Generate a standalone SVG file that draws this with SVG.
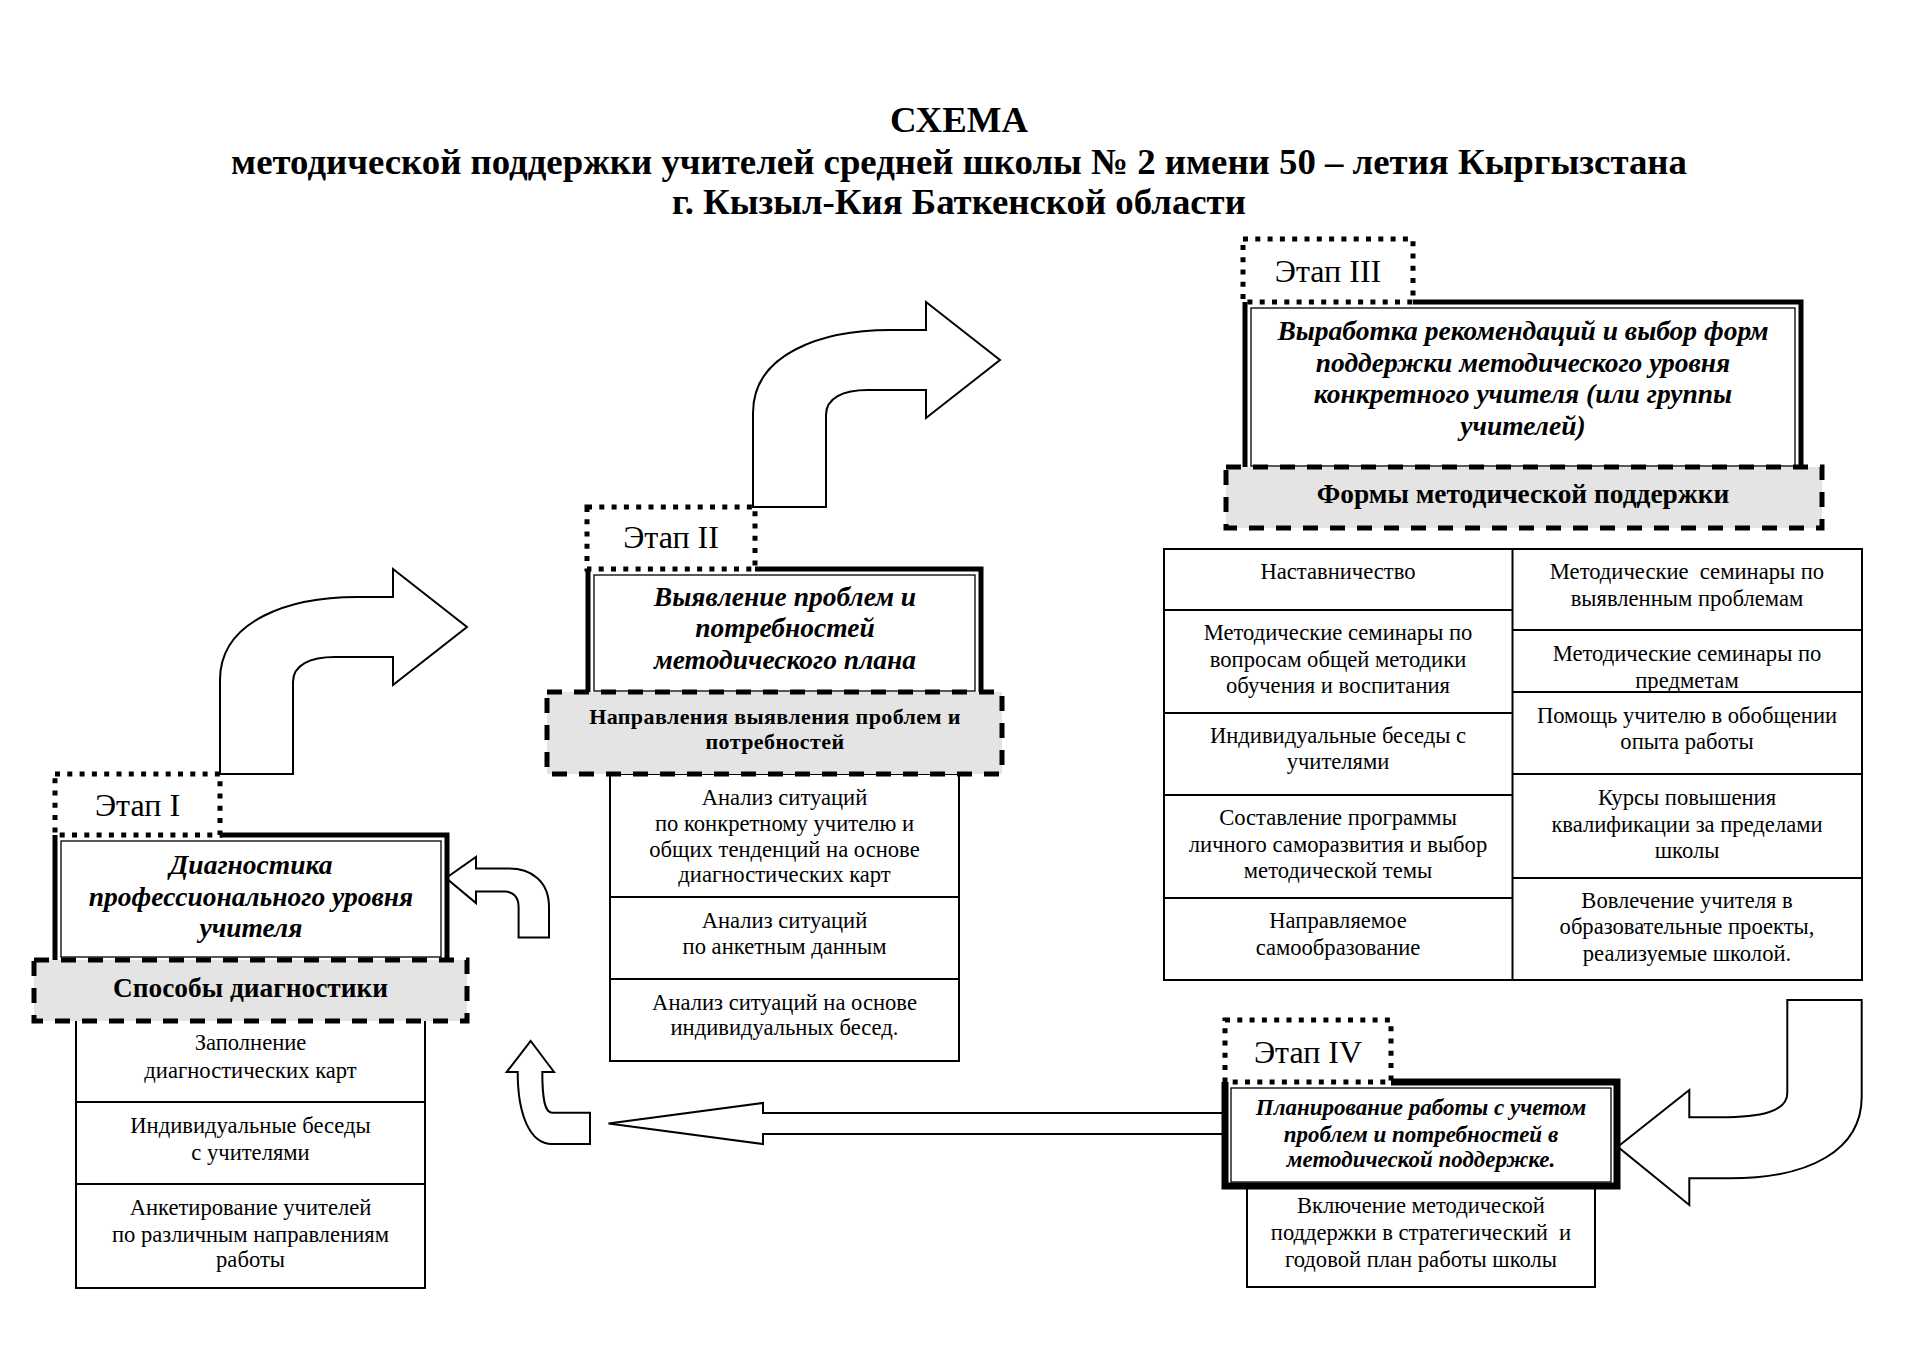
<svg xmlns="http://www.w3.org/2000/svg" xmlns:xlink="http://www.w3.org/1999/xlink" width="1920" height="1358" viewBox="0 0 1920 1358">
<style>
text{font-family:"Liberation Serif","Times New Roman",serif;fill:#000;text-anchor:middle}
.title{font-size:36.8px;font-weight:bold}
.etap{font-size:32px}
.head{font-size:27.5px;font-weight:bold;font-style:italic}
.head4{font-size:23px;font-weight:bold;font-style:italic}
.sub{font-size:27.4px;font-weight:bold}
.sub2{font-size:22px;font-weight:bold;letter-spacing:0.4px}
.item{font-size:22.6px}
.dot{fill:none;stroke:#000;stroke-width:5;stroke-dasharray:5 7.3}
.thick{fill:none;stroke:#000;stroke-width:5}
.thin{fill:none;stroke:#000;stroke-width:1.3}
.gray{fill:#e4e4e4;stroke:#000;stroke-width:5;stroke-dasharray:15 12}
.cell{fill:#fff;stroke:#000;stroke-width:2}
.line{stroke:#000;stroke-width:2}
.arrow{fill:#fff;stroke:#000;stroke-width:2;stroke-linejoin:miter}
</style>
<defs>
<path id="bend" d="M220,774 L220,680 C220,620 290,597 357,597 L393,597 L393,569 L467,627 L393,685 L393,657 L335,657 C310,657 293,665 293,682 L293,774 Z"/>
</defs>
<rect width="1920" height="1358" fill="#fff"/>

<g id="title">
<text class="title" x="959" y="132">СХЕМА</text>
<text class="title" x="959" y="174">методической поддержки учителей средней школы № 2 имени 50 – летия Кыргызстана</text>
<text class="title" x="959" y="214">г. Кызыл-Кия Баткенской области</text>
</g>

<g id="connectors">
<use xlink:href="#bend" class="arrow"/>
<use xlink:href="#bend" class="arrow" transform="translate(533,-267)"/>
<path class="arrow" d="M446,878 L476,857 L476,868.6 L509,868.6 C530,868.6 549,880 549,907 L549,937.5 L518.6,937.5 L518.6,907 C518.6,897 513,891.6 505,891.6 L476,891.6 L476,903 Z"/>
<path class="arrow" d="M530.7,1041 L554,1072 L542.3,1072 C542.3,1100 545,1112.7 552,1112.7 L590,1112.7 L590,1144 L552,1144 C530,1144 517.7,1115 517.7,1072 L506.7,1072 Z"/>
<path class="arrow" d="M608.5,1123.5 L763,1103 L763,1113 L1224,1113 L1224,1134 L763,1134 L763,1144 Z"/>
<path class="arrow" d="M1617.7,1146.7 L1689.3,1090 L1689.3,1117.3 L1720,1117.3 C1760,1117.3 1787.3,1112 1787.3,1093 L1787.3,1000 L1861.7,1000 L1861.7,1096.7 C1861.7,1150 1810,1178.3 1730,1178.3 L1689.3,1178.3 L1689.3,1205 Z"/>
</g>

<g id="stage1">
<g id="stage1-list">
<rect class="cell" x="76" y="1020" width="349" height="268"/>
<line class="line" x1="76" y1="1102" x2="425" y2="1102"/>
<line class="line" x1="76" y1="1184" x2="425" y2="1184"/>
<text class="item"><tspan x="250.5" y="1050">Заполнение</tspan><tspan x="250.5" y="1078">диагностических карт</tspan></text>
<text class="item"><tspan x="250.5" y="1133">Индивидуальные беседы</tspan><tspan x="250.5" y="1160">с учителями</tspan></text>
<text class="item"><tspan x="250.5" y="1215">Анкетирование учителей</tspan><tspan x="250.5" y="1242">по различным направлениям</tspan><tspan x="250.5" y="1267">работы</tspan></text>
</g>
<g id="stage1-box">
<path class="thick" d="M220,835 H447 V960 M55,835 V960"/>
<rect class="thin" x="61" y="841" width="380" height="116"/>
<text class="head"><tspan x="251" y="874">Диагностика</tspan><tspan x="251" y="906">профессионального уровня</tspan><tspan x="251" y="937">учителя</tspan></text>
</g>
<g id="stage1-label">
<rect class="dot" x="55" y="774" width="165" height="61"/>
<text class="etap" x="137.5" y="816">Этап I</text>
</g>
<g id="stage1-methods">
<rect class="gray" x="34" y="960" width="433" height="61"/>
<text class="sub" x="250.5" y="997">Способы диагностики</text>
</g>
</g>

<g id="stage2">
<g id="stage2-list">
<rect class="cell" x="610" y="774" width="349" height="287"/>
<line class="line" x1="610" y1="897" x2="959" y2="897"/>
<line class="line" x1="610" y1="979" x2="959" y2="979"/>
<text class="item"><tspan x="784.5" y="805">Анализ ситуаций</tspan><tspan x="784.5" y="831">по конкретному учителю и</tspan><tspan x="784.5" y="857">общих тенденций на основе</tspan><tspan x="784.5" y="882">диагностических карт</tspan></text>
<text class="item"><tspan x="784.5" y="928">Анализ ситуаций</tspan><tspan x="784.5" y="954">по анкетным данным</tspan></text>
<text class="item"><tspan x="784.5" y="1010">Анализ ситуаций на основе</tspan><tspan x="784.5" y="1035">индивидуальных бесед.</tspan></text>
</g>
<g id="stage2-box">
<path class="thick" d="M755,569 H981 V692 M588,569 V692"/>
<rect class="thin" x="594" y="575" width="381" height="116"/>
<text class="head"><tspan x="785" y="606">Выявление проблем и</tspan><tspan x="785" y="637">потребностей</tspan><tspan x="785" y="669">методического плана</tspan></text>
</g>
<g id="stage2-label">
<rect class="dot" x="587" y="507" width="168" height="62"/>
<text class="etap" x="671" y="548">Этап II</text>
</g>
<g id="stage2-directions">
<rect class="gray" x="547" y="692" width="455" height="82"/>
<text class="sub2"><tspan x="775" y="724">Направления выявления проблем и</tspan><tspan x="775" y="749">потребностей</tspan></text>
</g>
</g>

<g id="stage3">
<g id="stage3-box">
<path class="thick" d="M1413,302 H1801 V467 M1245,302 V467"/>
<rect class="thin" x="1251" y="308" width="544" height="158"/>
<text class="head"><tspan x="1523" y="340">Выработка рекомендаций и выбор форм</tspan><tspan x="1523" y="372">поддержки методического уровня</tspan><tspan x="1523" y="403">конкретного учителя (или группы</tspan><tspan x="1523" y="435">учителей)</tspan></text>
</g>
<g id="stage3-label">
<rect class="dot" x="1243" y="239" width="170" height="63"/>
<text class="etap" x="1328" y="282">Этап III</text>
</g>
<g id="stage3-forms">
<rect class="gray" x="1226" y="467" width="596" height="61"/>
<text class="sub" x="1523" y="503">Формы методической поддержки</text>
</g>
<g id="stage3-table">
<rect class="cell" x="1164" y="549" width="698" height="431"/>
<line class="line" x1="1512.5" y1="549" x2="1512.5" y2="980"/>
<line class="line" x1="1164" y1="610" x2="1512.5" y2="610"/>
<line class="line" x1="1164" y1="713" x2="1512.5" y2="713"/>
<line class="line" x1="1164" y1="795" x2="1512.5" y2="795"/>
<line class="line" x1="1164" y1="898" x2="1512.5" y2="898"/>
<line class="line" x1="1512.5" y1="630" x2="1862" y2="630"/>
<line class="line" x1="1512.5" y1="692" x2="1862" y2="692"/>
<line class="line" x1="1512.5" y1="774" x2="1862" y2="774"/>
<line class="line" x1="1512.5" y1="878" x2="1862" y2="878"/>
<text class="item" x="1338" y="579">Наставничество</text>
<text class="item"><tspan x="1338" y="640">Методические семинары по</tspan><tspan x="1338" y="667">вопросам общей методики</tspan><tspan x="1338" y="693">обучения и воспитания</tspan></text>
<text class="item"><tspan x="1338" y="743">Индивидуальные беседы с</tspan><tspan x="1338" y="769">учителями</tspan></text>
<text class="item"><tspan x="1338" y="825">Составление программы</tspan><tspan x="1338" y="852">личного саморазвития и выбор</tspan><tspan x="1338" y="878">методической темы</tspan></text>
<text class="item"><tspan x="1338" y="928">Направляемое</tspan><tspan x="1338" y="955">самообразование</tspan></text>
<text class="item" xml:space="preserve"><tspan x="1687" y="579">Методические  семинары по</tspan><tspan x="1687" y="606">выявленным проблемам</tspan></text>
<text class="item"><tspan x="1687" y="661">Методические семинары по</tspan><tspan x="1687" y="688">предметам</tspan></text>
<text class="item"><tspan x="1687" y="723">Помощь учителю в обобщении</tspan><tspan x="1687" y="749">опыта работы</tspan></text>
<text class="item"><tspan x="1687" y="805">Курсы повышения</tspan><tspan x="1687" y="832">квалификации за пределами</tspan><tspan x="1687" y="858">школы</tspan></text>
<text class="item"><tspan x="1687" y="908">Вовлечение учителя в</tspan><tspan x="1687" y="934">образовательные проекты,</tspan><tspan x="1687" y="961">реализуемые школой.</tspan></text>
</g>
</g>

<g id="stage4">
<g id="stage4-sub">
<rect class="cell" x="1247" y="1186" width="348" height="101"/>
<text class="item" xml:space="preserve"><tspan x="1421" y="1213">Включение методической</tspan><tspan x="1421" y="1240">поддержки в стратегический  и</tspan><tspan x="1421" y="1267">годовой план работы школы</tspan></text>
</g>
<g id="stage4-box">
<path class="thick" style="stroke-width:7" d="M1391,1082 H1617 V1186 H1225 V1082"/>
<rect class="thin" x="1231" y="1088" width="380" height="94" fill="#fff"/>
<text class="head4"><tspan x="1421" y="1115">Планирование работы с учетом</tspan><tspan x="1421" y="1142">проблем и потребностей в</tspan><tspan x="1421" y="1167">методической поддержке.</tspan></text>
</g>
<g id="stage4-label">
<rect class="dot" x="1225" y="1020" width="166" height="62"/>
<text class="etap" x="1308" y="1063">Этап IV</text>
</g>
</g>
</svg>
